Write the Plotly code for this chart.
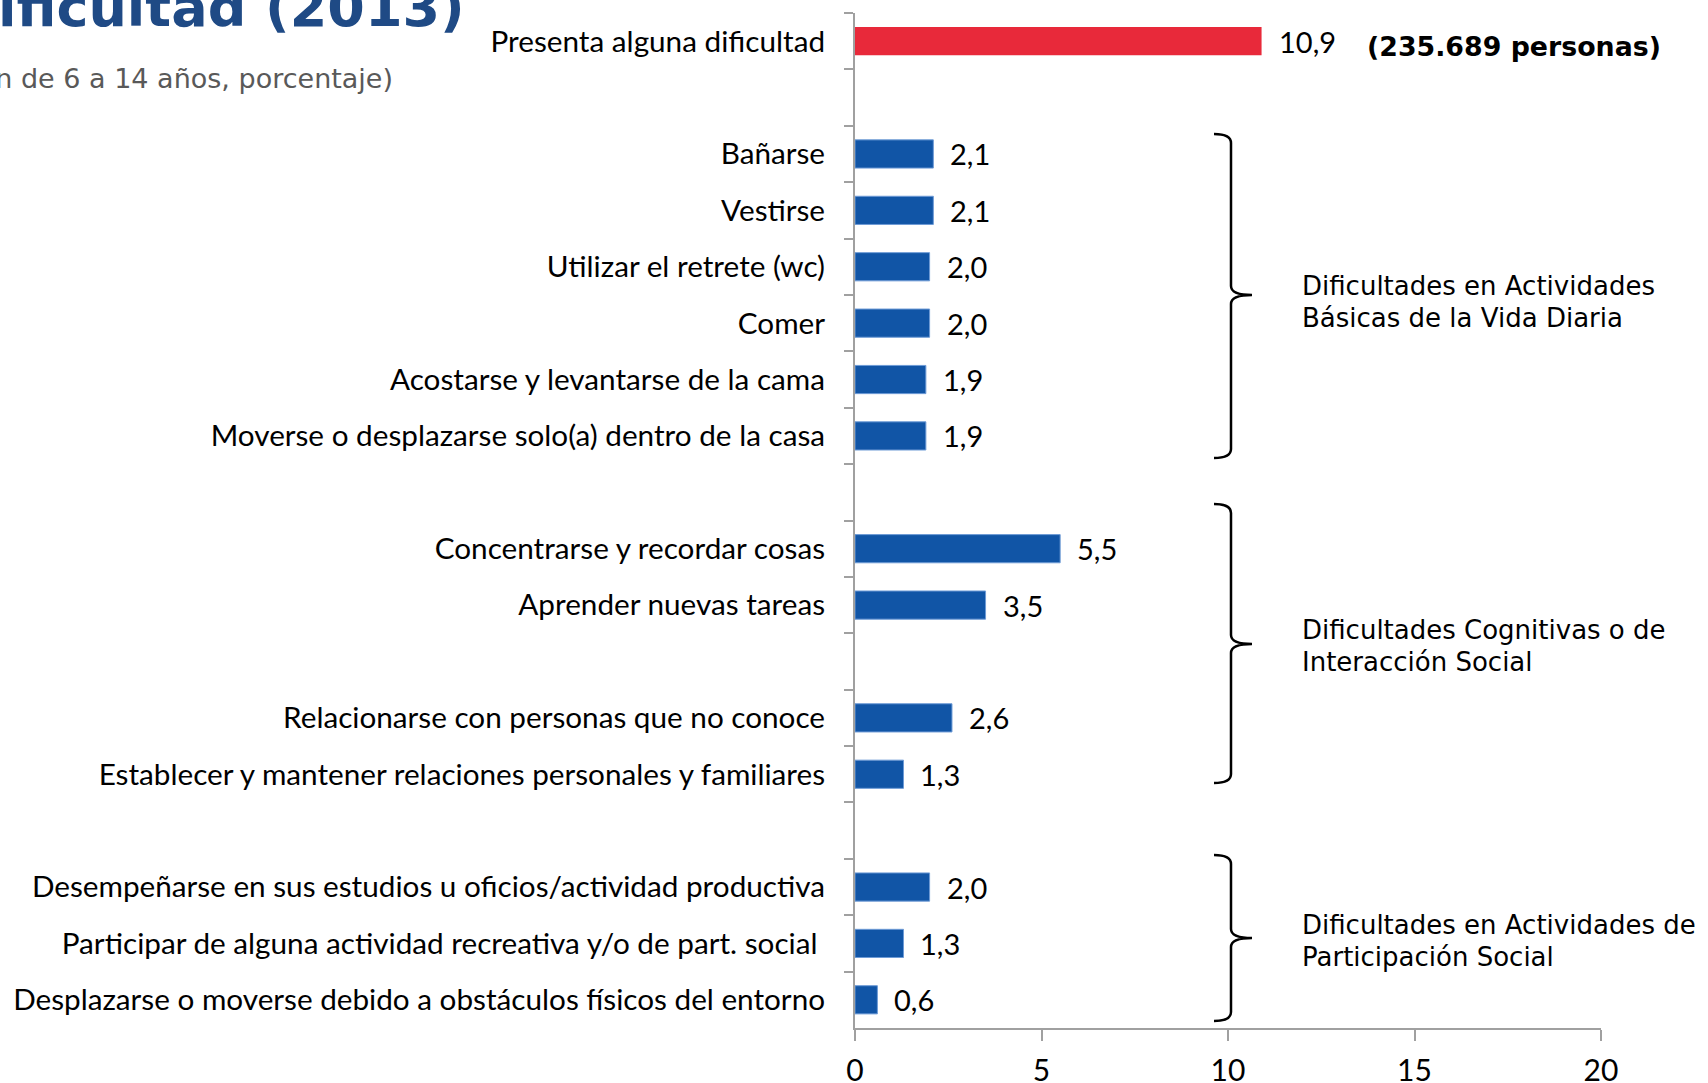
import plotly.graph_objects as go

# ---------------- data ----------------
total_label = "Presenta alguna dificultad"
total_value = 10.9
total_people = "(235.689 personas)"

categories = [
    "Presenta alguna dificultad",
    " ",
    "Bañarse",
    "Vestirse",
    "Utilizar el retrete (wc)",
    "Comer",
    "Acostarse y levantarse de la cama",
    "Moverse o desplazarse solo(a) dentro de la casa",
    "  ",
    "Concentrarse y recordar cosas",
    "Aprender nuevas tareas",
    "   ",
    "Relacionarse con personas que no conoce",
    "Establecer y mantener relaciones personales y familiares",
    "    ",
    "Desempeñarse en sus estudios u oficios/actividad productiva",
    "Participar de alguna actividad recreativa y/o de part. social\u00a0",
    "Desplazarse o moverse debido a obstáculos físicos del entorno",
]

detail_labels = [
    "Bañarse",
    "Vestirse",
    "Utilizar el retrete (wc)",
    "Comer",
    "Acostarse y levantarse de la cama",
    "Moverse o desplazarse solo(a) dentro de la casa",
    "Concentrarse y recordar cosas",
    "Aprender nuevas tareas",
    "Relacionarse con personas que no conoce",
    "Establecer y mantener relaciones personales y familiares",
    "Desempeñarse en sus estudios u oficios/actividad productiva",
    "Participar de alguna actividad recreativa y/o de part. social\u00a0",
    "Desplazarse o moverse debido a obstáculos físicos del entorno",
]
detail_values = [2.1, 2.1, 2.0, 2.0, 1.9, 1.9, 5.5, 3.5, 2.6, 1.3, 2.0, 1.3, 0.6]

group_names = [
    ["Dificultades en Actividades", "Básicas de la Vida Diaria"],
    ["Dificultades Cognitivas o de", "Interacción Social"],
    ["Dificultades en Actividades de", "Participación Social"],
]

title_text = "Población con alguna dificultad (2013)"
subtitle_text = "(población de 6 a 14 años, porcentaje)"
x_ticks = [0, 5, 10, 15, 20]

# ---------------- layout helpers ----------------
W, H = 1708, 1083
ML, MR, MT, MB = 855, 107, 13, 55
PW, PH = W - ML - MR, H - MT - MB


def fx(px):
    return (px - ML) / PW


def fy(py):
    return 1 - (py - MT) / PH


def fmt(v):
    return f"{v:.1f}".replace(".", ",")


CAL = "Lato, 'Open Sans', sans-serif"
VER = "'DejaVu Sans', Verdana, sans-serif"
RED = "#E8293A"
BLUE = "#1155A6"
AXIS = "#A0A0A0"

fig = go.Figure()
fig.add_trace(go.Bar(
    orientation="h", y=[total_label], x=[total_value], width=0.5,
    marker=dict(color=RED, line=dict(width=0)), hoverinfo="x+y",
))
fig.add_trace(go.Bar(
    orientation="h", y=detail_labels, x=detail_values, width=0.5,
    marker=dict(color=BLUE, line=dict(color="#6E9BD6", width=1)), hoverinfo="x+y",
))

annotations = []
# value labels
for lab, val in [(total_label, total_value)] + list(zip(detail_labels, detail_values)):
    annotations.append(dict(
        x=val, y=lab, xref="x", yref="y", text=fmt(val), showarrow=False,
        xanchor="left", yanchor="middle", xshift=15,
        font=dict(family=CAL, size=29, color="#000000"),
    ))
# persons note
annotations.append(dict(
    x=fx(1365), y=total_label, xref="paper", yref="y", text="<b>" + total_people + "</b>",
    showarrow=False, xanchor="left", yanchor="middle", yshift=-5,
    font=dict(family=VER, size=26.8, color="#000000"),
))
# title + subtitle (partially cut off like in the source)
annotations.append(dict(
    x=fx(467), y=fy(41.5), xref="paper", yref="paper", text="<b>" + title_text + "</b>",
    showarrow=False, xanchor="right", yanchor="bottom",
    font=dict(family=VER, size=54, color="#1F4A85"),
))
annotations.append(dict(
    x=fx(395), y=fy(96), xref="paper", yref="paper", text=subtitle_text,
    showarrow=False, xanchor="right", yanchor="bottom",
    font=dict(family=VER, size=27, color="#595959"),
))

# braces (pixel geometry) + group labels
braces = [(134, 295, 458), (504, 644, 783), (855, 938, 1021)]
label_centers = [302, 646, 941]
xl, xm, xt, r = 1214, 1231, 1252, 9
shapes = []
for (top, tip, bot), cy, names in zip(braces, label_centers, group_names):
    pts = [
        ("M", [(xl, top)]),
        ("Q", [(xm, top), (xm, top + r)]),
        ("L", [(xm, tip - r)]),
        ("Q", [(xm, tip), (xt, tip)]),
        ("Q", [(xm, tip), (xm, tip + r)]),
        ("L", [(xm, bot - r)]),
        ("Q", [(xm, bot), (xl, bot)]),
    ]
    path = " ".join(cmd + " " + " ".join(f"{fx(a):.5f},{fy(b):.5f}" for a, b in p) for cmd, p in pts)
    shapes.append(dict(type="path", path=path, xref="paper", yref="paper",
                       line=dict(color="#000000", width=2.5)))
    for i, line in enumerate(names):
        annotations.append(dict(
            x=fx(1300), y=fy(cy - 16 + 32 * i), xref="paper", yref="paper", text=line,
            showarrow=False, xanchor="left", yanchor="middle",
            font=dict(family=VER, size=26, color="#000000"),
        ))

fig.update_layout(
    width=W, height=H,
    margin=dict(l=ML, r=MR, t=MT, b=MB, pad=0, autoexpand=False),
    paper_bgcolor="white", plot_bgcolor="white",
    showlegend=False, barmode="overlay",
    annotations=annotations, shapes=shapes,
    xaxis=dict(
        range=[0, 20], tickvals=x_ticks, ticktext=[str(t) for t in x_ticks],
        ticks="outside", ticklen=11, tickwidth=2, tickcolor=AXIS, automargin=False,
        showline=True, linecolor=AXIS, linewidth=2, showgrid=False, zeroline=False,
        tickfont=dict(family=CAL, size=30, color="#000000"), ticklabelstandoff=4,
    ),
    yaxis=dict(
        type="category", categoryorder="array", categoryarray=categories,
        range=[len(categories) - 0.5, -0.5], automargin=False,
        ticks="outside", tickson="boundaries", ticklen=9, tickwidth=2, tickcolor=AXIS,
        showline=True, linecolor=AXIS, linewidth=2, showgrid=False, zeroline=False,
        tickfont=dict(family=CAL, size=29.7, color="#000000"), ticklabelstandoff=22,
    ),
)

fig.write_html(
    "out.html",
    config={"displayModeBar": False},
    post_script="document.body.style.margin='0';document.body.style.overflow='hidden';",
)
